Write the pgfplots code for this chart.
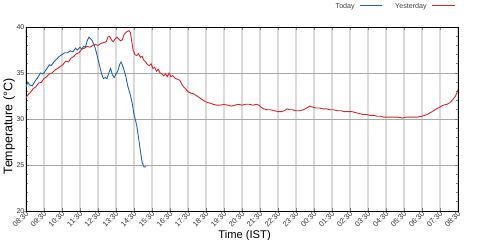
\documentclass[border=0pt]{standalone}
\usepackage{pgfplots}
\pgfplotsset{compat=1.18}
\usepackage{fontspec}
\setmainfont{Liberation Sans}
\definecolor{todayblue}{HTML}{1F63A8}
\definecolor{yestred}{HTML}{D7262D}
\definecolor{vgrid}{HTML}{DADADA}
\definecolor{hgrid}{HTML}{A8A8A8}
\begin{document}
\begin{tikzpicture}
\useasboundingbox (0,0) rectangle (480bp,240bp);
\begin{axis}[
  at={(26bp,29bp)}, anchor=south west,
  scale only axis, width=432bp, height=184bp,
  xmin=0, xmax=24, ymin=20, ymax=40,
  axis line style={line width=0.9bp},
  xtick={0,1,...,24},
  xticklabels={08:30,09:30,10:30,11:30,12:30,13:30,14:30,15:30,16:30,17:30,18:30,19:30,20:30,21:30,22:30,23:30,00:30,01:30,02:30,03:30,04:30,05:30,06:30,07:30,08:30},
  ytick={20,25,30,35,40},
  minor y tick num=4,
  tick pos=both, tick align=inside,
  major tick length=3bp, minor tick length=2bp,
  tick style={line width=0.6bp},
  xmajorgrids, ymajorgrids,
  major x grid style={vgrid, line width=1.5bp},
  major y grid style={hgrid, line width=0.6bp},
  /pgf/number format/assume math mode=true,
  xticklabel style={font=\fontsize{7.5}{8}\selectfont, text=black!80, xshift=2bp, yshift=-1bp, rotate=45, anchor=east, inner sep=1bp},
  yticklabel style={font=\fontsize{7}{8}\selectfont, text=black!80, inner sep=1.5bp},
  xlabel={Time (IST)},
  xlabel style={font=\fontsize{11.2}{13}\selectfont, at={(axis description cs:0.506,-0.147)}, anchor=base},
  ylabel={Temperature (°C)},
  ylabel style={font=\fontsize{12.5}{14}\selectfont, at={(axis description cs:-0.039,0.46)}, anchor=center},
]
\addplot[todayblue, line width=0.9bp] coordinates {
(0,33.5) (0.1,34.0) (0.2,33.7) (0.35,33.6) (0.5,34.1) (0.65,34.5) (0.8,35.0) (0.95,34.9)
(1.1,35.3) (1.3,35.9) (1.4,35.8) (1.55,36.2) (1.7,36.5) (1.85,36.8) (2.0,37.0) (2.15,37.2)
(2.3,37.2) (2.45,37.4) (2.6,37.3) (2.75,37.7) (2.85,37.5) (3.0,37.8) (3.1,37.6) (3.2,37.9)
(3.3,37.8) (3.4,38.5) (3.5,38.9) (3.65,38.6) (3.8,38.0) (3.9,37.3) (4.0,36.5) (4.1,35.7)
(4.2,34.9) (4.3,34.4) (4.4,34.5) (4.5,34.4) (4.6,35.0) (4.7,35.5) (4.8,34.8) (4.9,34.5)
(5.0,34.9) (5.1,35.2) (5.2,35.9) (5.28,36.2) (5.35,35.9) (5.45,35.3) (5.55,34.6) (5.65,33.6)
(5.8,32.6) (5.9,31.7) (6.0,30.5) (6.08,29.9) (6.15,29.3) (6.25,28.0) (6.35,26.6) (6.45,25.3)
(6.55,24.8) (6.67,24.8)
};
\addplot[yestred, line width=0.9bp] coordinates {
(0,32.3) (0.1,32.6) (0.25,32.9) (0.4,33.3) (0.55,33.5) (0.7,33.9) (0.85,34.0) (1.0,34.4)
(1.15,34.6) (1.3,34.9) (1.45,35.0) (1.6,35.3) (1.75,35.5) (1.9,35.7) (2.05,35.9) (2.2,36.3)
(2.35,36.2) (2.5,36.6) (2.65,36.8) (2.8,37.1) (2.95,37.2) (3.1,37.6) (3.25,37.7) (3.4,37.9)
(3.55,37.8) (3.7,38.0) (3.85,38.1) (4.0,38.0) (4.15,38.2) (4.3,38.3) (4.45,38.4) (4.55,38.9)
(4.65,39.0) (4.75,38.6) (4.85,38.4) (4.95,38.7) (5.05,38.9) (5.15,38.7) (5.25,38.5) (5.35,38.6)
(5.45,39.2) (5.6,39.5) (5.72,39.6) (5.8,39.4) (5.87,38.5) (5.95,37.5) (6.05,37.0) (6.15,36.9)
(6.25,37.1) (6.35,36.7) (6.45,36.8) (6.55,36.4) (6.65,36.2) (6.75,35.9) (6.85,35.8) (6.95,36.0)
(7.05,35.5) (7.15,35.6) (7.25,35.2) (7.35,35.4) (7.45,35.0) (7.55,34.9) (7.65,34.7) (7.75,34.9)
(7.85,34.6) (7.95,35.0) (8.05,34.6) (8.15,34.7) (8.3,34.4) (8.45,34.3) (8.55,34.2) (8.65,33.8)
(8.75,33.5) (8.85,33.3) (8.95,33.1) (9.05,32.9) (9.2,32.8) (9.35,32.7) (9.5,32.5) (9.65,32.3)
(9.8,32.1) (9.95,31.9) (10.1,31.8) (10.25,31.7) (10.4,31.6) (10.6,31.5) (10.8,31.5) (11.0,31.6)
(11.2,31.5) (11.4,31.4) (11.6,31.5) (11.8,31.6) (12.0,31.5) (12.2,31.6) (12.4,31.6) (12.6,31.5)
(12.8,31.6) (12.95,31.5) (13.05,31.3) (13.2,31.1) (13.4,31.0) (13.6,31.0) (13.8,30.9) (14.0,30.8)
(14.2,30.8) (14.35,30.9) (14.5,31.1) (14.65,31.0) (14.8,31.0) (15.0,30.9) (15.2,30.9) (15.4,31.0)
(15.6,31.2) (15.75,31.4) (15.9,31.3) (16.1,31.2) (16.3,31.2) (16.5,31.1) (16.7,31.1) (16.9,31.0)
(17.1,31.0) (17.3,30.9) (17.5,30.9) (17.7,30.8) (17.9,30.8) (18.1,30.8) (18.3,30.7) (18.5,30.6)
(18.7,30.5) (18.9,30.5) (19.1,30.4) (19.3,30.4) (19.5,30.3) (19.7,30.3) (19.9,30.2) (20.1,30.2)
(20.3,30.2) (20.5,30.2) (20.7,30.2) (20.9,30.1) (21.1,30.2) (21.3,30.2) (21.5,30.2) (21.7,30.2)
(22.0,30.3) (22.3,30.5) (22.56,30.8) (22.8,31.1) (23.0,31.3) (23.17,31.5) (23.4,31.6) (23.56,31.8)
(23.7,32.1) (23.83,32.4) (23.93,32.8) (24.0,33.2)
};
\end{axis}
% legend
\node[anchor=base east, inner sep=0pt, font=\fontsize{7.2}{8}\selectfont, text=black!75] at (355bp,231.5bp) {Today};
\draw[todayblue, line width=1.4bp] (360bp,234.5bp) -- (382bp,234.5bp);
\node[anchor=base east, inner sep=0pt, font=\fontsize{7.2}{8}\selectfont, text=black!75] at (427bp,231.5bp) {Yesterday};
\draw[yestred, line width=1.4bp] (432bp,234.5bp) -- (455bp,234.5bp);
\end{tikzpicture}
\end{document}
